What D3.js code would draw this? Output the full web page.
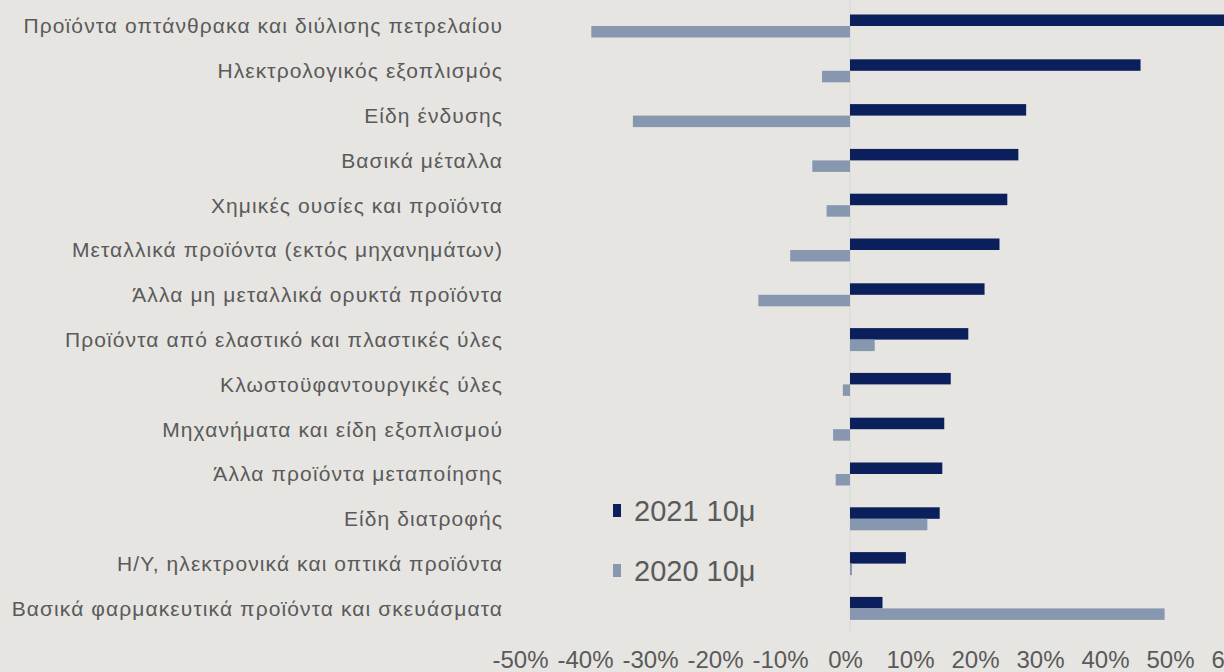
<!DOCTYPE html>
<html>
<head>
<meta charset="utf-8">
<script src="https://cdn.jsdelivr.net/npm/d3@7"></script>
<style>
  html, body { margin: 0; padding: 0; background: #e6e5e1; }
  svg { display: block; }
</style>
</head>
<body>
<svg id="chart" width="1224" height="672"></svg>
<script>
const categories = [
  "Προϊόντα οπτάνθρακα και διύλισης πετρελαίου",
  "Ηλεκτρολογικός εξοπλισμός",
  "Είδη ένδυσης",
  "Βασικά μέταλλα",
  "Χημικές ουσίες και προϊόντα",
  "Μεταλλικά προϊόντα (εκτός μηχανημάτων)",
  "Άλλα μη μεταλλικά ορυκτά προϊόντα",
  "Προϊόντα από ελαστικό και πλαστικές ύλες",
  "Κλωστοϋφαντουργικές ύλες",
  "Μηχανήματα και είδη εξοπλισμού",
  "Άλλα προϊόντα μεταποίησης",
  "Είδη διατροφής",
  "Η/Υ, ηλεκτρονικά και οπτικά προϊόντα",
  "Βασικά φαρμακευτικά προϊόντα και σκευάσματα"
];
const seriesNames = ["2021 10μ", "2020 10μ"];
const values2021 = [60, 44.7, 27.1, 25.9, 24.2, 23.0, 20.7, 18.2, 15.5, 14.5, 14.2, 13.8, 8.6, 5.0];
const values2020 = [-39.8, -4.3, -33.4, -5.8, -3.6, -9.2, -14.1, 3.8, -1.1, -2.6, -2.2, 11.9, 0.3, 48.4];
const tickValues = [-50, -40, -30, -20, -10, 0, 10, 20, 30, 40, 50, 60];
const colors = ["#0b1f5c", "#8797b0"];

const svg = d3.select("#chart");

const x = d3.scaleLinear().domain([-50, 60]).range([525, 1240]);
const y = d3.scaleBand().domain(categories).range([3.6, 630.8]).paddingInner(0.487).paddingOuter(0.2435);
const ySub = d3.scaleBand().domain(seriesNames).range([0, y.bandwidth()]);

// zero line
svg.append("line")
  .attr("x1", x(0)).attr("x2", x(0))
  .attr("y1", 0).attr("y2", 632)
  .attr("stroke", "#d6d6d2").attr("stroke-width", 1);

const rows = categories.map((c, i) => ({ cat: c, vals: [values2021[i], values2020[i]] }));

const g = svg.append("g");
rows.forEach(r => {
  r.vals.forEach((v, k) => {
    g.append("rect")
      .attr("x", Math.min(x(0), x(v)))
      .attr("y", y(r.cat) + ySub(seriesNames[k]))
      .attr("width", Math.abs(x(v) - x(0)))
      .attr("height", ySub.bandwidth())
      .attr("fill", colors[k]);
  });
});

// category labels
svg.append("g").selectAll("text")
  .data(categories)
  .join("text")
  .attr("x", 503)
  .attr("y", d => y(d) + y.bandwidth() / 2)
  .attr("dy", "0.35em")
  .attr("text-anchor", "end")
  .attr("font-family", "Liberation Sans, Arial, sans-serif")
  .attr("font-size", 21)
  .attr("letter-spacing", 1.1)
  .attr("fill", "#5a5a5a")
  .text(d => d);

// x axis tick labels
const xAxis = d3.axisBottom(x).tickValues(tickValues).tickSize(0).tickFormat(d => d + "%");
const ax = svg.append("g").attr("transform", "translate(-5,651)").call(xAxis);
ax.select(".domain").remove();
ax.selectAll("text")
  .attr("y", 0)
  .attr("dy", "0.72em")
  .attr("font-family", "Liberation Sans, Arial, sans-serif")
  .attr("font-size", 24)
  .attr("fill", "#5a5a5a");

// legend
const legend = svg.append("g");
const legY = [511, 571];
seriesNames.forEach((n, k) => {
  legend.append("rect")
    .attr("x", 613).attr("y", legY[k] - 7)
    .attr("width", 8).attr("height", 13)
    .attr("fill", colors[k]);
  legend.append("text")
    .attr("x", 634).attr("y", legY[k])
    .attr("dy", "0.36em")
    .attr("font-family", "Liberation Sans, Arial, sans-serif")
    .attr("font-size", 29)
    .attr("fill", "#5a5a5a")
    .text(n);
});
</script>
</body>
</html>
